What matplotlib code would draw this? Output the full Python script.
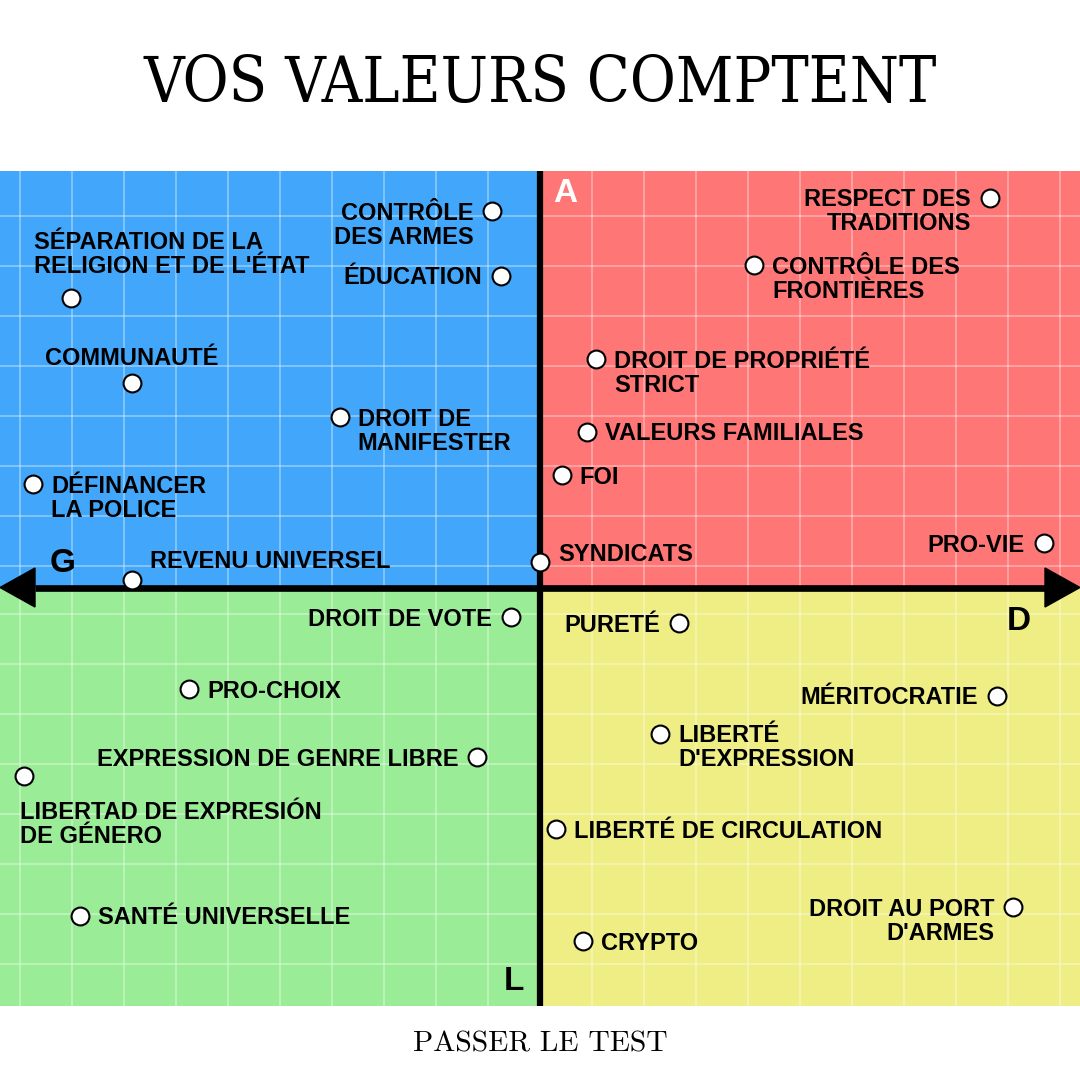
import matplotlib
matplotlib.use("Agg")
import matplotlib.pyplot as plt
from matplotlib.patches import Rectangle, Polygon

# points on the compass: x = gauche/droite, y = libertaire/autoritaire
labels = ["CONTRÔLE\nDES ARMES", "ÉDUCATION", "SÉPARATION DE LA\nRELIGION ET DE L'ÉTAT",
          "COMMUNAUTÉ", "DROIT DE\nMANIFESTER", "DÉFINANCER\nLA POLICE", "REVENU UNIVERSEL",
          "SYNDICATS", "FOI", "VALEURS FAMILIALES", "DROIT DE PROPRIÉTÉ\nSTRICT",
          "CONTRÔLE DES\nFRONTIÈRES", "RESPECT DES\nTRADITIONS", "PRO-VIE", "DROIT DE VOTE",
          "PURETÉ", "PRO-CHOIX", "MÉRITOCRATIE", "LIBERTÉ\nD'EXPRESSION",
          "EXPRESSION DE GENRE LIBRE", "LIBERTAD DE EXPRESIÓN\nDE GÉNERO",
          "LIBERTÉ DE CIRCULATION", "SANTÉ UNIVERSELLE", "DROIT AU PORT\nD'ARMES", "CRYPTO"]
econ = [-0.92, -0.75, -9.02, -7.85, -3.85, -9.75, -7.85, 0.0, 0.42, 0.90, 1.08, 4.12, 8.65,
        9.69, -0.56, 2.67, -6.75, 8.79, 2.31, -1.21, -9.92, 0.31, -8.85, 9.10, 0.83]
auth = [7.53, 6.23, 5.79, 4.09, 3.41, 2.07, 0.15, 0.51, 2.25, 3.11, 4.57, 6.45, 7.79,
        0.89, -0.59, -0.71, -2.03, -2.17, -2.93, -3.39, -3.77, -4.83, -6.57, -6.39, -7.07]
place = ["L", "L", "TL", "T", "R", "R", "TR", "RU", "R", "R", "R", "R", "L",
         "L", "L", "L", "R", "L", "R", "L", "B", "R", "R", "L", "R"]

title = "VOS VALEURS COMPTENT"
footer = "PASSER LE TEST"

# label offsets in pixels: dx, dy to first baseline (down = +), alignment
offsets = {"R": (18, 8.5, "left"), "L": (-19, 8.5, "right"), "T": (0, -18, "center"),
           "TR": (18, -12, "left"), "RU": (18, -1, "left"), "TL": (-37, -49, "left"),
           "B": (-4, 43, "left")}
pitch = 24  # px between lines

blue, red, green, yellow = "#42a7fb", "#ff7676", "#9aec97", "#eeee84"
lab_font = ["Liberation Sans", "DejaVu Sans"]

fig = plt.figure(figsize=(10.8, 10.8), dpi=100)
fig.patch.set_facecolor("white")
ax = fig.add_axes([0, 74 / 1080, 1, 835 / 1080])
x0, x1 = -540 / 52, 540 / 52
y0, y1 = -418.5 / 50, 416.5 / 50
ax.set_xlim(x0, x1)
ax.set_ylim(y0, y1)
ax.axis("off")

ax.add_patch(Rectangle((x0, 0), -x0, y1, color=blue, lw=0, zorder=0))
ax.add_patch(Rectangle((0, 0), x1, y1, color=red, lw=0, zorder=0))
ax.add_patch(Rectangle((x0, y0), -x0, -y0, color=green, lw=0, zorder=0))
ax.add_patch(Rectangle((0, y0), x1, -y0, color=yellow, lw=0, zorder=0))

# faint white grid
for gx in range(-10, 11):
    ax.axvline(gx, color="white", alpha=0.33, lw=1.4, zorder=1)
for k in range(8):
    ax.axhline(0.43 + k, color="white", alpha=0.33, lw=1.4, zorder=1)
    ax.axhline(-0.53 - k, color="white", alpha=0.33, lw=1.4, zorder=1)

# axes with arrows
ax.plot([0, 0], [y0, y1], color="black", lw=4.5, solid_capstyle="butt", zorder=2)
hl, hw = 35 / 52, 19.5 / 50
ax.plot([x0 + hl, x1 - hl], [0, 0], color="black", lw=4.8, solid_capstyle="butt", zorder=2)
ax.add_patch(Polygon([[x0, 0], [x0 + hl, hw], [x0 + hl, -hw]], closed=True, color="black", zorder=2))
ax.add_patch(Polygon([[x1, 0], [x1 - hl, hw], [x1 - hl, -hw]], closed=True, color="black", zorder=2))

ax.scatter(econ, auth, s=165, facecolor="white", edgecolor="black", linewidth=1.5, zorder=4)

for lab, x, y, p in zip(labels, econ, auth, place):
    dx, dy, ha = offsets[p]
    for i, line in enumerate(lab.split("\n")):
        ax.annotate(line, (x, y), xytext=(dx * 0.72, -(dy + i * pitch) * 0.72),
                    textcoords="offset points", ha=ha, va="baseline",
                    fontsize=17, fontweight="bold", family=lab_font, zorder=5)


def px(x, y):
    return x / 1080, 1 - y / 1080


for letter, (lx, ly), col in [("A", (553, 202), "white"), ("G", (50, 572), "black"),
                              ("D", (1007, 630), "black"), ("L", (504, 990), "black")]:
    fig.text(*px(lx, ly), letter, ha="left", va="baseline", fontsize=24,
             fontweight="bold", family=lab_font, color=col)

fig.text(*px(540, 102), title, ha="center", va="baseline", fontsize=45,
         family=["DejaVu Serif"], fontstretch="condensed")
fig.text(*px(540, 1052), footer, ha="center", va="baseline", fontsize=21.3, family=["cmr10"])

fig.savefig("out.png", dpi=100)
